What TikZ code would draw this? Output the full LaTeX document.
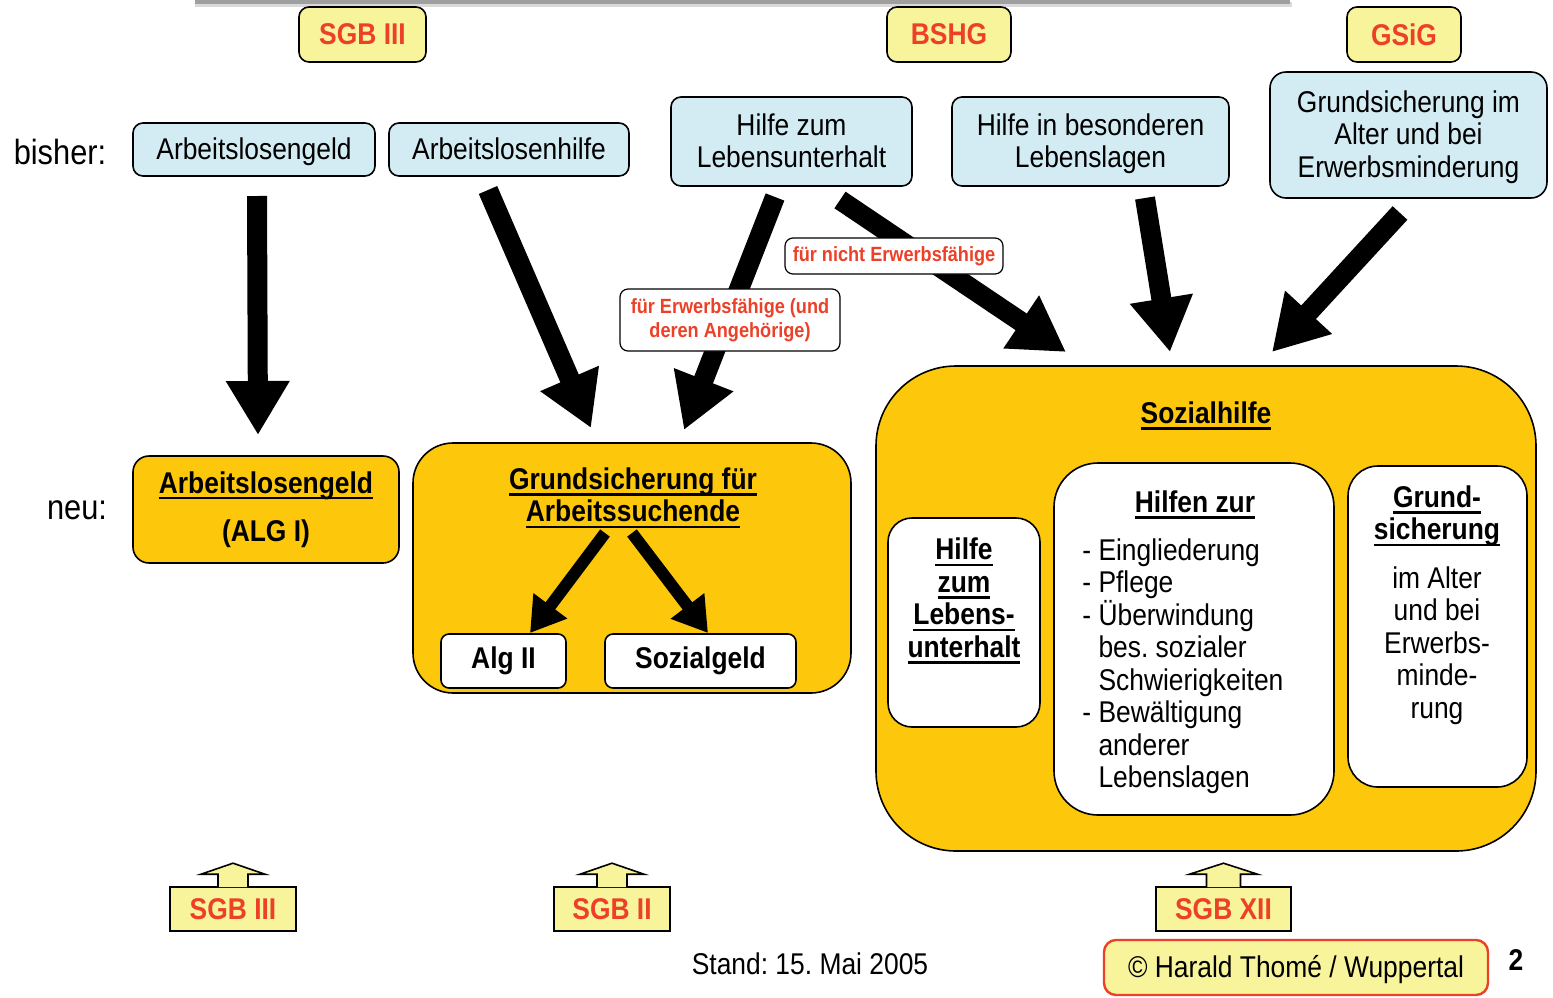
\documentclass[tikz,border=0pt]{standalone}
\usepackage{fontspec}
\setmainfont{Liberation Sans}[FakeStretch=0.88]
\usetikzlibrary{arrows.meta,shapes}
\definecolor{hellblau}{RGB}{211,236,244}
\definecolor{hellgelb}{RGB}{248,244,156}
\definecolor{gold}{RGB}{253,200,12}
\definecolor{sgbrot}{RGB}{236,64,40}
\frenchspacing
\newcommand{\grundschrift}{\fontsize{15}{16.25}\selectfont}
\newcommand{\unterstr}[1]{\setbox0\hbox{#1}\rlap{\rule[-3.2pt]{\wd0}{1.3pt}}\box0}
\newcommand{\einr}{\hphantom{-\ }}

\begin{document}
\begin{tikzpicture}[x=0.5pt,y=-0.5pt,font=\grundschrift,every node/.style={align=center}]
\tikzstyle{altbox}=[draw,rounded corners=5pt,fill=hellblau,line width=0.8pt,inner sep=0pt,text depth=1pt]
\tikzstyle{gesetz}=[draw,rounded corners=5pt,fill=hellgelb,line width=0.8pt,inner sep=0pt,minimum height=27.5pt,text=sgbrot,font=\grundschrift\bfseries]
\tikzstyle{neubox}=[draw,fill=gold,line width=0.8pt,inner sep=0pt,font=\grundschrift\bfseries]
\tikzstyle{weiss}=[draw,fill=white,line width=0.8pt,inner sep=0pt,font=\grundschrift\bfseries]
\tikzstyle{titel}=[font=\grundschrift\bfseries]
\tikzstyle{hinweis}=[draw,fill=white,rounded corners=4pt,line width=0.6pt,inner sep=0pt,text=sgbrot,font=\fontsize{10.3}{12}\selectfont\bfseries]
\tikzstyle{dickpfeil}=[line width=10pt,-{Triangle[width=30pt,length=27pt]}]
\tikzstyle{duennpfeil}=[line width=6pt,-{Triangle[width=20pt,length=17pt]}]
\tikzstyle{sgbunten}=[draw,fill=hellgelb,line width=0.8pt,inner sep=0pt,minimum height=22pt,text=sgbrot,font=\grundschrift\bfseries]

\useasboundingbox (0,0) rectangle (1553,997);
\fill[gray!30] (195,2) rectangle (1292,7);
\fill[gray!75] (195,0) rectangle (1290,4);

\node [gesetz,minimum width=63.5pt] (SGBo3) at (362.5,34.5) {SGB III};
\node [gesetz,minimum width=62pt] (BSHG) at (949,34.5) {BSHG};
\node [gesetz,minimum width=57pt] (GSIG) at (1404,34.5) {GSiG};

\node [font=\fontsize{17.5}{19}\selectfont] (bisher) at (60,152) {bisher:};
\node [font=\fontsize{17.5}{19}\selectfont] (neu) at (77,510) {neu:};

\node [altbox,minimum width=121pt,minimum height=26.5pt] (ALG) at (254,149.5) {Arbeitslosengeld};
\node [altbox,minimum width=120pt,minimum height=26.5pt] (ALHI) at (509,149.5) {Arbeitslosenhilfe};
\node [altbox,minimum width=120.5pt,minimum height=44.5pt] (HLU) at (791.5,141.5) {Hilfe zum\\Lebensunterhalt};
\node [altbox,minimum width=138.5pt,minimum height=44.5pt] (HBL) at (1090.5,141.5) {Hilfe in besonderen\\Lebenslagen};
\node [altbox,rounded corners=8pt,minimum width=138.5pt,minimum height=63pt] (GSI) at (1408.5,135) {Grundsicherung im\\Alter und bei\\Erwerbsminderung};

\node [neubox,rounded corners=8pt,minimum width=133pt,minimum height=53.5pt] (ALGI) at (266,509.5) {\unterstr{Arbeitslosengeld}\\[8pt](ALG I)};
\node [neubox,rounded corners=20pt,minimum width=219pt,minimum height=125pt] (GSA) at (632,568) {};
\node [titel] (GSAtitel) at (633,498) {\unterstr{Grundsicherung für}\\\unterstr{Arbeitssuchende}};
\node [weiss,rounded corners=4pt,minimum width=62.5pt,minimum height=27pt] (ALGII) at (503.5,661) {Alg II};
\node [weiss,rounded corners=4pt,minimum width=95.5pt,minimum height=27pt] (SOZG) at (700.5,661) {Sozialgeld};

\node [neubox,rounded corners=40pt,minimum width=330pt,minimum height=242.5pt] (SH) at (1206,608.5) {};
\node [titel] (SHtitel) at (1206,416) {\unterstr{Sozialhilfe}};
\node [weiss,rounded corners=12pt,minimum width=76pt,minimum height=104.5pt] (HLUneu) at (964,622.5) {};
\node [titel] (HLUtitel) at (964,601) {\unterstr{Hilfe}\\\unterstr{zum}\\\unterstr{Lebens-}\\\unterstr{unterhalt}};
\node [weiss,rounded corners=22pt,minimum width=140pt,minimum height=176pt] (HZ) at (1194,639) {};
\node [titel] (HZtitel) at (1195,505) {\unterstr{Hilfen zur}};
\node [align=left,anchor=west,inner sep=0pt] (HZliste) at (1082,666) {- Eingliederung\\- Pflege\\- Überwindung\\\einr bes. sozialer\\\einr Schwierigkeiten\\- Bewältigung\\\einr anderer\\\einr Lebenslagen};
\node [weiss,rounded corners=15pt,minimum width=89.5pt,minimum height=160.5pt] (GSneu) at (1437.5,626.5) {};
\node [titel] (GStitel) at (1437,516) {\unterstr{Grund-}\\\unterstr{sicherung}};
\node (GStext) at (1437,645.5) {im Alter\\und bei\\Erwerbs-\\minde-\\rung};

\coordinate (A1) at (257,196);
\coordinate (B1) at (258,435);
\coordinate (A2) at (488,190);
\coordinate (B2) at (591,428);
\coordinate (A3) at (775,197);
\coordinate (B3) at (684,430);
\coordinate (A4) at (840,200);
\coordinate (B4) at (1066,352);
\coordinate (A5) at (1145,198);
\coordinate (B5) at (1170,352);
\coordinate (A6) at (1400,213);
\coordinate (B6) at (1272,352);
\coordinate (A7) at (605,533);
\coordinate (B7) at (530,633);
\coordinate (A8) at (632,533);
\coordinate (B8) at (708,633);

\path[dickpfeil]
 (A1) edge (B1)
 (A2) edge (B2)
 (A3) edge (B3)
 (A4) edge (B4)
 (A5) edge (B5)
 (A6) edge (B6);
\path[duennpfeil]
 (A7) edge (B7)
 (A8) edge (B8);

\node [hinweis,minimum width=110pt,minimum height=31pt] (ERW) at (730,320) {für Erwerbsfähige (und\\deren Angehörige)};
\node [hinweis,minimum width=109pt,minimum height=18pt] (NERW) at (894,256) {für nicht Erwerbsfähige};

\node [sgbunten,minimum width=63pt] (SGBu3) at (233,909) {SGB III};
\node [sgbunten,minimum width=58pt] (SGBu2) at (612,909) {SGB II};
\node [sgbunten,minimum width=67.5pt] (SGBu12) at (1223.5,909) {SGB XII};
\filldraw[fill=hellgelb,line width=0.8pt] ([xshift=-7.5pt,yshift=-0.5pt]SGBu3.north) -- ++(0pt,6.5pt) -- ++(-8.5pt,0pt) -- ++(16pt,5.5pt) -- ++(16pt,-5.5pt) -- ++(-8.5pt,0pt) -- ++(0pt,-6.5pt);
\filldraw[fill=hellgelb,line width=0.8pt] ([xshift=-7.5pt,yshift=-0.5pt]SGBu2.north) -- ++(0pt,6.5pt) -- ++(-8.5pt,0pt) -- ++(16pt,5.5pt) -- ++(16pt,-5.5pt) -- ++(-8.5pt,0pt) -- ++(0pt,-6.5pt);
\filldraw[fill=hellgelb,line width=0.8pt] ([xshift=-8.5pt,yshift=-0.5pt]SGBu12.north) -- ++(0pt,6.5pt) -- ++(-8.5pt,0pt) -- ++(17pt,5.5pt) -- ++(17pt,-5.5pt) -- ++(-8.5pt,0pt) -- ++(0pt,-6.5pt);

\node (STAND) at (810,964) {Stand: 15. Mai 2005};
\node [draw=sgbrot,fill=hellgelb,line width=1.2pt,rounded corners=6pt,inner sep=0pt,text depth=1pt,minimum width=192pt,minimum height=27.5pt] (COPY) at (1296,967.5) {© Harald Thomé / Wuppertal};
\node [font=\fontsize{15}{16}\selectfont\bfseries] (SEITE) at (1516,960) {2};
\end{tikzpicture}
\end{document}
